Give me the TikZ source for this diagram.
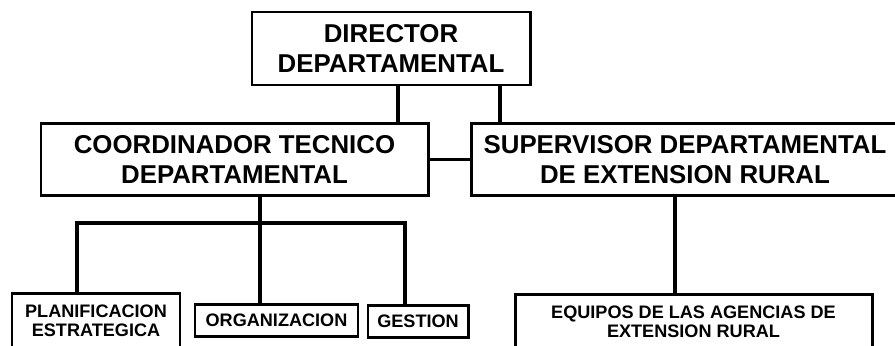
\documentclass[tikz,border=0pt]{standalone}
\usepackage{fontspec}
\setmainfont{Liberation Sans}
\usepackage{tikz}

\begin{document}
\begin{tikzpicture}[x=0.02cm, y=-0.02cm,
			block_big/.style  = {draw, rectangle, black, line width=1.7pt, inner sep=0pt, align=center, font=\fontsize{14.7}{17}\selectfont\bfseries},
			block_small/.style  = {draw, rectangle, black, line width=1.7pt, inner sep=0pt, align=center, font=\fontsize{10.3}{10.8}\selectfont\bfseries},
			link/.style = {black, line width=1.8pt},]
			
			\clip (0,0) rectangle (895,345);
			\fill[white] (0,0) rectangle (895,345);
			
			%% TOP LEVEL
			\node[block_big, minimum width=278*0.02cm, minimum height=73*0.02cm] (dir) at (391,48.5) {DIRECTOR\\DEPARTAMENTAL};
			
			%% SECOND LEVEL
			\node[block_big, minimum width=387*0.02cm, minimum height=72*0.02cm] (coord) at (234.5,159.5) {COORDINADOR TECNICO\\DEPARTAMENTAL};
			\node[block_big, minimum width=428*0.02cm, minimum height=72*0.02cm] (sup) at (685,159.5) {SUPERVISOR DEPARTAMENTAL\\DE EXTENSION RURAL};
			
			%% BOTTOM LEVEL (cut by the lower edge)
			\node[block_small, minimum width=168*0.02cm, minimum height=56*0.02cm] (plan) at (96,321) {PLANIFICACION\\ESTRATEGICA};
			\node[block_small, minimum width=163*0.02cm, minimum height=32*0.02cm] (org) at (276.5,320) {ORGANIZACION};
			\node[block_small, minimum width=100*0.02cm, minimum height=32*0.02cm] (ges) at (418,321) {GESTION};
			\node[block_small, minimum width=357*0.02cm, minimum height=56*0.02cm] (equ) at (693.5,322) {EQUIPOS DE LAS AGENCIAS DE\\EXTENSION RURAL};
			
			%% VERTICAL LINES AND BUS
			\coordinate (dL) at (398,0);
			\coordinate (dR) at (500,0);
			\coordinate (bus) at (260,223);
			\coordinate (busL) at (77,223);
			\coordinate (busR) at (405,223);
			\coordinate (sD) at (675,0);
			\draw [link] (dL |- dir.south) -- (dL |- coord.north);
			\draw [link] (dR |- dir.south) -- (dR |- sup.north);
			\draw [link] (coord.east) -- (sup.west);
			\draw [link] (bus |- coord.south) -- (bus |- org.north);
			\draw [link] (busL |- plan.north) -- (busL) -- (busR) -- (busR |- ges.north);
			\draw [link] (sD |- sup.south) -- (sD |- equ.north);
			\end{tikzpicture}
\end{document}
